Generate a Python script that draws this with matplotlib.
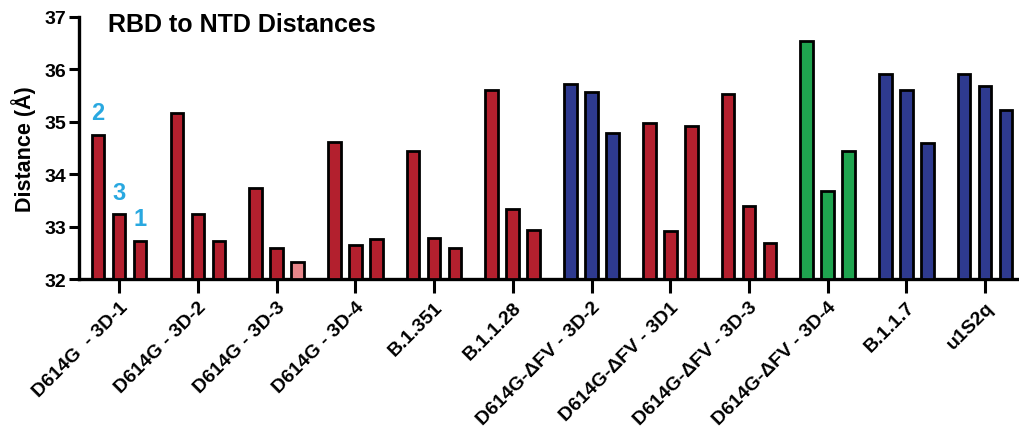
import matplotlib
matplotlib.use("Agg")
import matplotlib.pyplot as plt
import numpy as np

plt.rcParams['font.family'] = ['Liberation Sans', 'DejaVu Sans']

categories = ["D614G  - 3D-1", "D614G - 3D-2", "D614G - 3D-3", "D614G - 3D-4",
              "B.1.351", "B.1.1.28", "D614G-ΔFV - 3D-2", "D614G-ΔFV - 3D1",
              "D614G-ΔFV - 3D-3", "D614G-ΔFV - 3D-4", "B.1.1.7", "u1S2q"]
bar1 = [34.75, 35.16, 33.73, 34.61, 34.45, 35.60, 35.72, 34.98, 35.53, 36.55, 35.91, 35.91]
bar2 = [33.24, 33.25, 32.60, 32.65, 32.79, 33.34, 35.57, 32.92, 33.39, 33.67, 35.60, 35.69]
bar3 = [32.73, 32.72, 32.32, 32.76, 32.60, 32.94, 34.78, 34.92, 32.68, 34.45, 34.60, 35.23]
group_colors = ["red", "red", "red", "red", "red", "red", "blue", "red", "red",
                "green", "blue", "blue"]
palette = {"red": "#B3202E", "blue": "#2E3A8F", "green": "#1FA44F", "pink": "#E8868A"}
annotations = ["2", "3", "1"]

fig = plt.figure(figsize=(10.19, 4.31), dpi=100)
ax = fig.add_axes([0.0775, 0.3503, 0.9225, 0.608])

x = np.arange(len(categories))
off = 0.267
w = 0.16
series = [bar1, bar2, bar3]
for k, vals in enumerate(series):
    cols = [palette[c] for c in group_colors]
    if k == 2:
        cols[2] = palette["pink"]
    heights = np.array(vals) - 32
    ax.bar(x + (k - 1) * off, heights, bottom=32, width=w, color=cols,
           edgecolor="black", linewidth=2.0, zorder=3)

for k, lab in enumerate(annotations):
    ax.text(x[0] + (k - 1) * off, series[k][0] + 0.42, lab, color="#29A8E0",
            fontsize=17, fontweight="bold", ha="center", va="center")

ax.set_ylim(32, 37)
ax.set_xlim(-0.51, 11.43)
ax.set_yticks([32, 33, 34, 35, 36, 37])
ax.set_xticks(x)
ax.set_xticklabels(categories, rotation=45, ha="right", rotation_mode="anchor",
                   fontsize=14, fontweight="bold")
for t in ax.get_yticklabels():
    t.set_fontweight("bold")
    t.set_fontsize(14)
ax.tick_params(axis="x", direction="out", length=10, width=2.2, pad=4)
ax.tick_params(axis="y", direction="out", length=7, width=2.2, pad=2)
for s in ["top", "right"]:
    ax.spines[s].set_visible(False)
for s in ["left", "bottom"]:
    ax.spines[s].set_linewidth(2.4)
ax.set_ylabel("Distance (Å)", fontsize=15.5, fontweight="bold", labelpad=6)
ax.text(0.031, 0.972, "RBD to NTD Distances", transform=ax.transAxes,
        fontsize=18, fontweight="bold", ha="left", va="center")

fig.savefig("out.png", dpi=100)
